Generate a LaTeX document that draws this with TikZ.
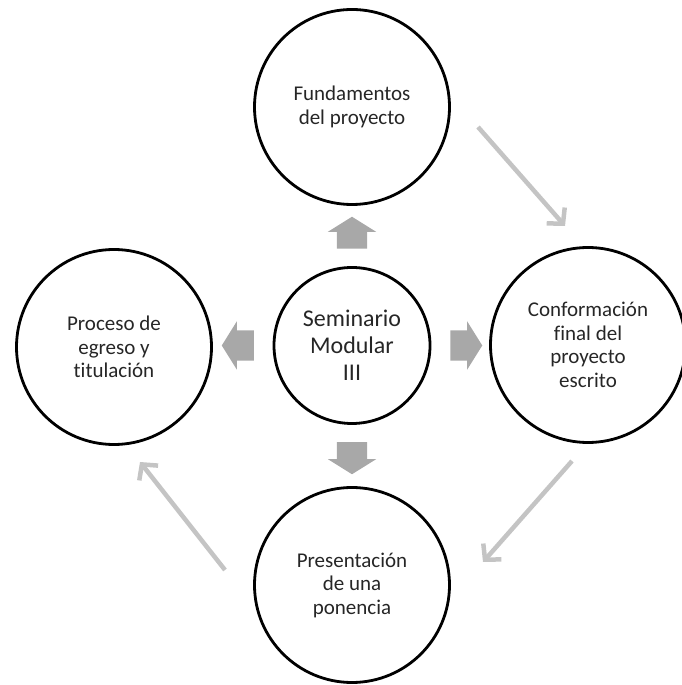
\documentclass[tikz,border=0pt]{standalone}
\usepackage{fontspec}
\setmainfont{Carlito}[Ligatures=NoCommon]
\usepackage{tikz}
\usetikzlibrary{shapes.arrows,arrows.meta}

\definecolor{blockgray}{HTML}{A8A8A8}
\definecolor{flowgray}{HTML}{C4C4C4}

\begin{document}
\begin{tikzpicture}[x=1pt,y=1pt,
    etapa/.style={circle,draw=black,line width=2.8pt,minimum size=195pt,inner sep=0pt,
      align=center,font=\fontsize{21}{23.5}\selectfont,text=black!85},
    centro/.style={etapa,minimum size=156pt,font=\fontsize{24}{27}\selectfont},
    bloque/.style={single arrow,fill=blockgray,draw=none,inner xsep=0pt,inner ysep=15pt,
      single arrow head extend=9pt,single arrow tip angle=116,minimum height=32pt},
    flujo/.style={draw=flowgray,line width=4.5pt,
      -{Straight Barb[length=11pt,width=24pt,line width=4.5pt]}}]
            \useasboundingbox (0,0) rectangle (682,685); %fixing margins

            % circles
            \node[centro] (sem) at (352,339.5) {Seminario\\Modular\\III};
            \node[etapa] (fund) at (352,578) {Fundamentos\\del proyecto};
            \node[etapa] (conf) at (588,340) {Conformación\\final del\\proyecto\\escrito};
            \node[etapa] (pres) at (352,100) {Presentación\\de una\\ponencia};
            \node[etapa] (proc) at (114,338) {Proceso de\\egreso y\\titulación};

            % block arrows out of the centre
            \node[bloque,rotate=90] (aup) at (352,447.5) {};
            \node[bloque,rotate=180] (aleft) at (242.5,339.5) {};
            \node[bloque] (aright) at (461.5,339.5) {};
            \node[bloque,rotate=-90] (adown) at (352,231.5) {};

            % cycle
            \coordinate (f1) at (478,558);
            \coordinate (f2) at (565,459);
            \coordinate (c1) at (572,224);
            \coordinate (c2) at (483,123);
            \coordinate (p1) at (225,115);
            \coordinate (p2) at (140,223);
            \draw[flujo] (f1) -- (f2);
            \draw[flujo] (c1) -- (c2);
            \draw[flujo] (p1) -- (p2);

          \end{tikzpicture}
\end{document}
